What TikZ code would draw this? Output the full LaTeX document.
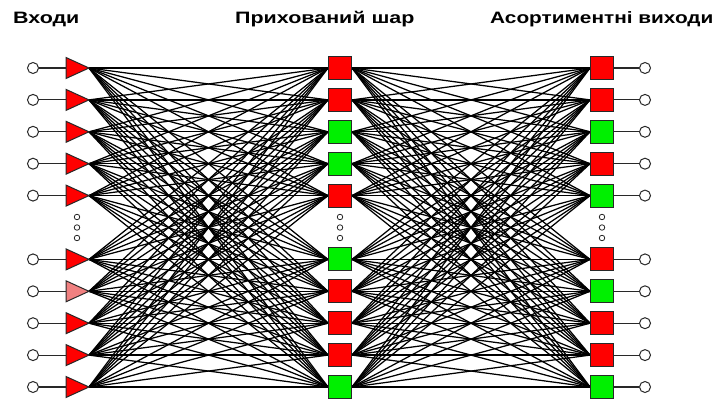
\documentclass[tikz,border=0pt]{standalone}
\usepackage{fontspec}
\setmainfont{Liberation Sans}
\usetikzlibrary{backgrounds}
\definecolor{nred}{RGB}{255,0,0}
\definecolor{ngreen}{RGB}{0,240,0}
\definecolor{npink}{RGB}{240,128,128}
\definecolor{edge}{RGB}{40,40,40}
\begin{document}
\begin{tikzpicture}[x=1pt,y=-1pt,
  pin/.style={circle, draw=edge, line width=1pt, fill=white, minimum size=11pt, inner sep=0pt},
  unit/.style={rectangle, draw=edge, line width=1pt, minimum size=23pt, inner sep=0pt},
  dotc/.style={circle, draw=edge, line width=0.8pt, fill=white, minimum size=5.5pt, inner sep=0pt},
  wire/.style={line width=1.25pt, black},
  lead/.style={line width=1.1pt, edge},
  head/.style={font=\bfseries\fontsize{16.5}{18}\selectfont, inner sep=0pt, anchor=base west}]
\useasboundingbox (0,0) rectangle (728,401);

% column headings
\node[head] (tin)  at (13,23.5)  {\scalebox{1.3}[1]{Входи}};
\node[head] (thid) at (235,23.5) {\scalebox{1.3}[1]{Прихований шар}};
\node[head] (tout) at (490,23.5) {\scalebox{1.26}[1]{Асортиментні виходи}};

% rows: index / hidden colour / output colour / input triangle colour
\foreach \k/\hc/\oc/\tc in {0/nred/nred/nred, 1/nred/nred/nred, 2/ngreen/ngreen/nred,
    3/ngreen/nred/nred, 4/nred/ngreen/nred, 6/ngreen/nred/nred, 7/nred/ngreen/npink,
    8/nred/nred/nred, 9/nred/nred/nred, 10/ngreen/ngreen/nred} {
  \pgfmathsetmacro\y{68+31.9*\k}
  \node[pin] (in\k) at (33,\y) {};
  \coordinate (tb\k) at (66,\y);
  \coordinate (tt\k) at (89,\y);
  \filldraw[fill=\tc, draw=edge, line width=1pt, line join=miter]
    (66,{\y-10.5}) -- (tt\k) -- (66,{\y+10.5}) -- cycle;
  \node[unit, fill=\hc] (h\k) at (340,\y) {};
  \node[unit, fill=\oc] (o\k) at (602,\y) {};
  \node[pin] (out\k) at (645,\y) {};
}

% ellipsis dots in each column
\foreach \n/\yy in {1/217, 2/227.5, 3/238} {
  \node[dotc] (di\n) at (77,\yy) {};
  \node[dotc] (dh\n) at (340,\yy) {};
  \node[dotc] (do\n) at (602,\yy) {};
}

% connections, kept behind the units
\begin{scope}[on background layer]
  \fill[white] (0,0) rectangle (728,401);
  \foreach \a in {0,1,2,3,4,6,7,8,9,10} {
    \draw[lead] (in\a) -- (tb\a);
    \draw[lead] (o\a) -- (out\a);
    \foreach \b in {0,1,2,3,4,6,7,8,9,10} {
      \draw[wire] (tt\a) -- (h\b.west);
      \draw[wire] (h\a.east) -- (o\b.west);
    }
  }
\end{scope}
\end{tikzpicture}
\end{document}
